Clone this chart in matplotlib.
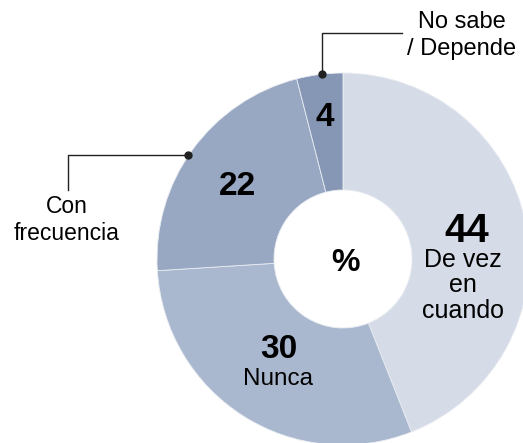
import matplotlib
matplotlib.use("Agg")
import matplotlib.pyplot as plt

plt.rcParams['font.family'] = ['Liberation Sans', 'DejaVu Sans']

# ---- data ----
categories = ["De vez\nen\ncuando", "Nunca", "Con\nfrecuencia", "No sabe\n/ Depende"]
values = [44, 30, 22, 4]
colors = ["#d6dce7", "#aab8cf", "#98a8c2", "#8597b5"]
center_label = "%"

# ---- geometry (pixels) ----
W, H = 523, 443
CX, CY, R = 343, 259, 186
INNER = 69 / 186


def px(x, y):
    return (x - CX) / R, (CY - y) / R


fig = plt.figure(figsize=(W / 100, H / 100), dpi=100)
ax = fig.add_axes([0, 0, 1, 1])

ax.pie(values, colors=colors, startangle=90, counterclock=False, radius=1,
       wedgeprops=dict(width=1 - INNER, edgecolor='#e9ecf2', linewidth=0.6))

ax.set_aspect('auto')
ax.set_xlim(px(0, 0)[0], px(W, 0)[0])
ax.set_ylim(px(0, H)[1], px(0, 0)[1])
ax.axis('off')

# center
ax.text(*px(345, 271), center_label, ha='center', va='baseline',
        fontsize=23, fontweight='bold', color='black')

# value labels inside slices
ax.text(*px(467, 241.5), str(values[0]), ha='center', va='baseline',
        fontsize=29, fontweight='bold')
for i, line in enumerate(categories[0].split("\n")):
    ax.text(*px(463, 266.7 + 25.8 * i), line, ha='center', va='baseline', fontsize=18)

ax.text(*px(278.5, 358.3), str(values[1]), ha='center', va='baseline',
        fontsize=24, fontweight='bold')
ax.text(*px(278, 385), categories[1], ha='center', va='baseline', fontsize=17.5)

ax.text(*px(237, 195), str(values[2]), ha='center', va='baseline',
        fontsize=24, fontweight='bold')
ax.text(*px(325, 126.5), str(values[3]), ha='center', va='baseline',
        fontsize=24, fontweight='bold')

# outside labels with leader lines
for i, line in enumerate(categories[2].split("\n")):
    ax.text(*px(67, 213.3 + 26.7 * i), line, ha='center', va='baseline', fontsize=16.5)
for i, line in enumerate(categories[3].split("\n")):
    ax.text(*px(462, 28.3 + 26.7 * i), line, ha='center', va='baseline', fontsize=17)

lc = '#222222'
p = [px(188.3, 155), px(67.7, 155), px(67.7, 190)]
ax.plot([q[0] for q in p], [q[1] for q in p], color=lc, lw=1.0)
ax.plot(*p[0], 'o', color=lc, ms=5)

p = [px(321.5, 74), px(321.5, 33.3), px(401.7, 33.3)]
ax.plot([q[0] for q in p], [q[1] for q in p], color=lc, lw=1.0)
ax.plot(*p[0], 'o', color=lc, ms=5)

fig.savefig("out.png", dpi=100)
